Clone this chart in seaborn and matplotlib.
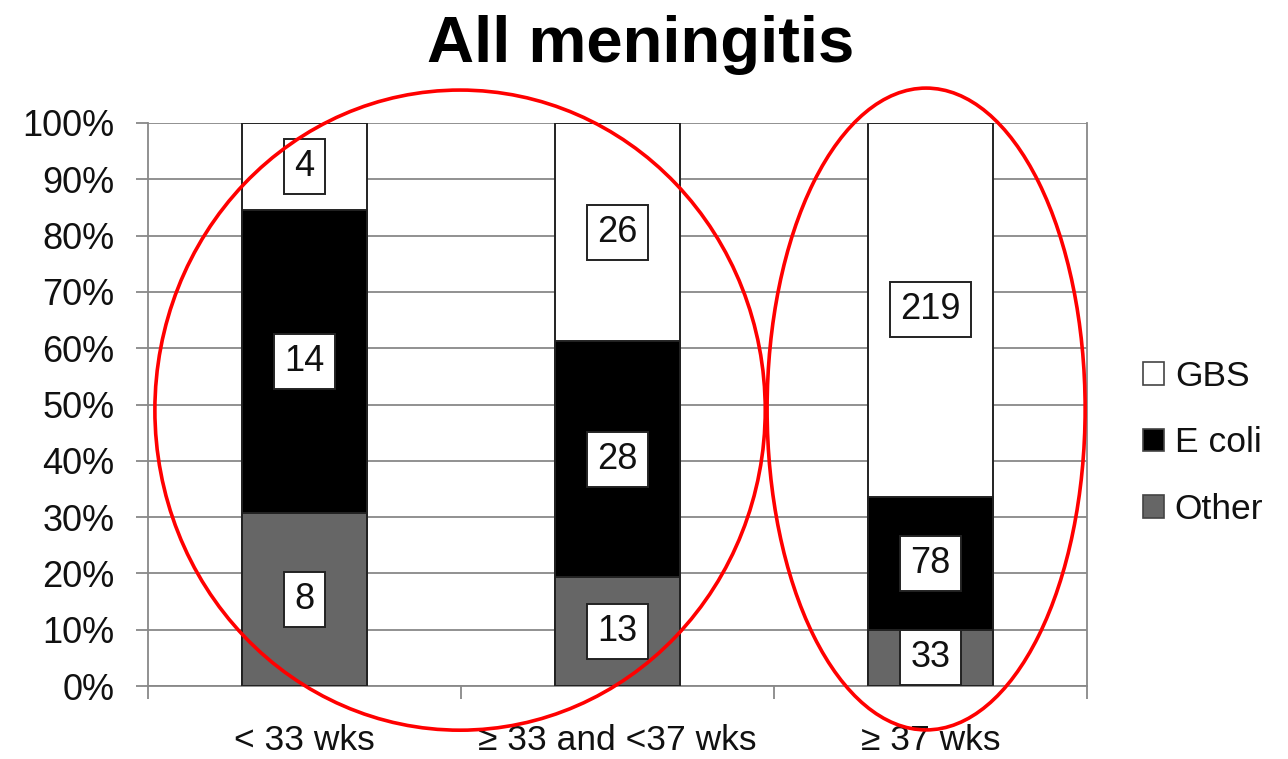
import pandas as pd
import seaborn as sns
import matplotlib.pyplot as plt
from matplotlib.patches import Ellipse, Patch

# Données : nombre de cas par groupe d'âge gestationnel
groupes = ['< 33 wks', '≥ 33 and <37 wks', '≥ 37 wks']
gbs = [4, 26, 219]
ecoli = [14, 28, 78]
other = [8, 13, 33]
series = ['GBS', 'E coli', 'Other']
couleurs = ['white', 'black', '#666666']
yticks = list(range(0, 101, 10))

df = pd.DataFrame({'groupe': groupes, 'GBS': gbs, 'E coli': ecoli, 'Other': other})
total = df['GBS'] + df['E coli'] + df['Other']
df['p_other'] = df['Other'] / total * 100
df['p_ecoli'] = df['E coli'] / total * 100
df['p_gbs'] = df['GBS'] / total * 100
df['cum_other'] = df['p_other']
df['cum_ecoli'] = df['p_other'] + df['p_ecoli']
df['cum_gbs'] = df['cum_ecoli'] + df['p_gbs']

sns.set_style('white')
plt.rcParams['font.family'] = ['Liberation Sans', 'DejaVu Sans']
plt.rcParams['text.color'] = '#111111'

fig = plt.figure(figsize=(12.88, 7.59), dpi=100)
ax = fig.add_axes([148 / 1288, 1 - 686 / 759, (1087 - 148) / 1288, (686 - 123) / 759])

# Barres empilées : on trace les cumuls du plus haut au plus bas
for col, c in zip(['cum_gbs', 'cum_ecoli', 'cum_other'], couleurs):
    sns.barplot(data=df, x='groupe', y=col, order=groupes, color=c,
                saturation=1, width=0.4, edgecolor='#222222', linewidth=1.4,
                ax=ax, zorder=3)

# Étiquettes des effectifs dans des boîtes
for i, row in df.iterrows():
    segments = [(row['GBS'], (row['cum_ecoli'] + row['cum_gbs']) / 2),
                (row['E coli'], (row['cum_other'] + row['cum_ecoli']) / 2),
                (row['Other'], row['cum_other'] / 2)]
    for n, y in segments:
        ax.text(i, y, str(n), ha='center', va='center', fontsize=26,
                color='#111111', zorder=5,
                bbox=dict(boxstyle='square,pad=0.28', fc='white', ec='#222222', lw=1.4))

ax.set_xlim(-0.5, 2.5)
ax.set_ylim(0, 100)
ax.set_yticks(yticks)
ax.set_yticklabels([f'{v}%' for v in yticks])
ax.set_xticks([-0.5, 0.5, 1.5, 2.5], minor=True)
ax.set_xlabel('')
ax.set_ylabel('')

ax.yaxis.grid(True, color='#888888', linewidth=1.3, zorder=0)
ax.set_axisbelow(True)
ax.tick_params(axis='y', which='major', length=9, width=1.3, color='#888888',
               labelsize=26, labelcolor='#111111', pad=15, left=True)
ax.tick_params(axis='x', which='major', length=0, labelsize=25.5,
               labelcolor='#111111', pad=27)
ax.tick_params(axis='x', which='minor', length=9, width=1.3, color='#888888',
               bottom=True)
for s in ['left', 'right', 'bottom']:
    ax.spines[s].set_visible(True)
    ax.spines[s].set_color('#888888')
    ax.spines[s].set_linewidth(1.3)
ax.spines['top'].set_visible(False)

# Ellipses rouges d'annotation
ax.add_patch(Ellipse((0.497, 49.0), 1.95, 113.7, fill=False, ec='red', lw=2.6,
                     clip_on=False, zorder=6))
ax.add_patch(Ellipse((1.986, 49.2), 1.016, 114.0, fill=False, ec='red', lw=2.6,
                     clip_on=False, zorder=6))

handles = [Patch(fc=c, ec='#444444', lw=1.2) for c in couleurs]
fig.legend(handles, series, loc='center left', bbox_to_anchor=(1143 / 1288, 1 - 443 / 759),
           frameon=False, fontsize=25.5, handlelength=0.6, handleheight=0.6,
           handletextpad=0.3, labelspacing=0.95, borderpad=0, borderaxespad=0)

fig.text(0.497, 1 - 62 / 759, 'All meningitis', ha='center', va='baseline',
         fontsize=47, fontweight='bold', color='black')

plt.savefig('out.png', dpi=100)
